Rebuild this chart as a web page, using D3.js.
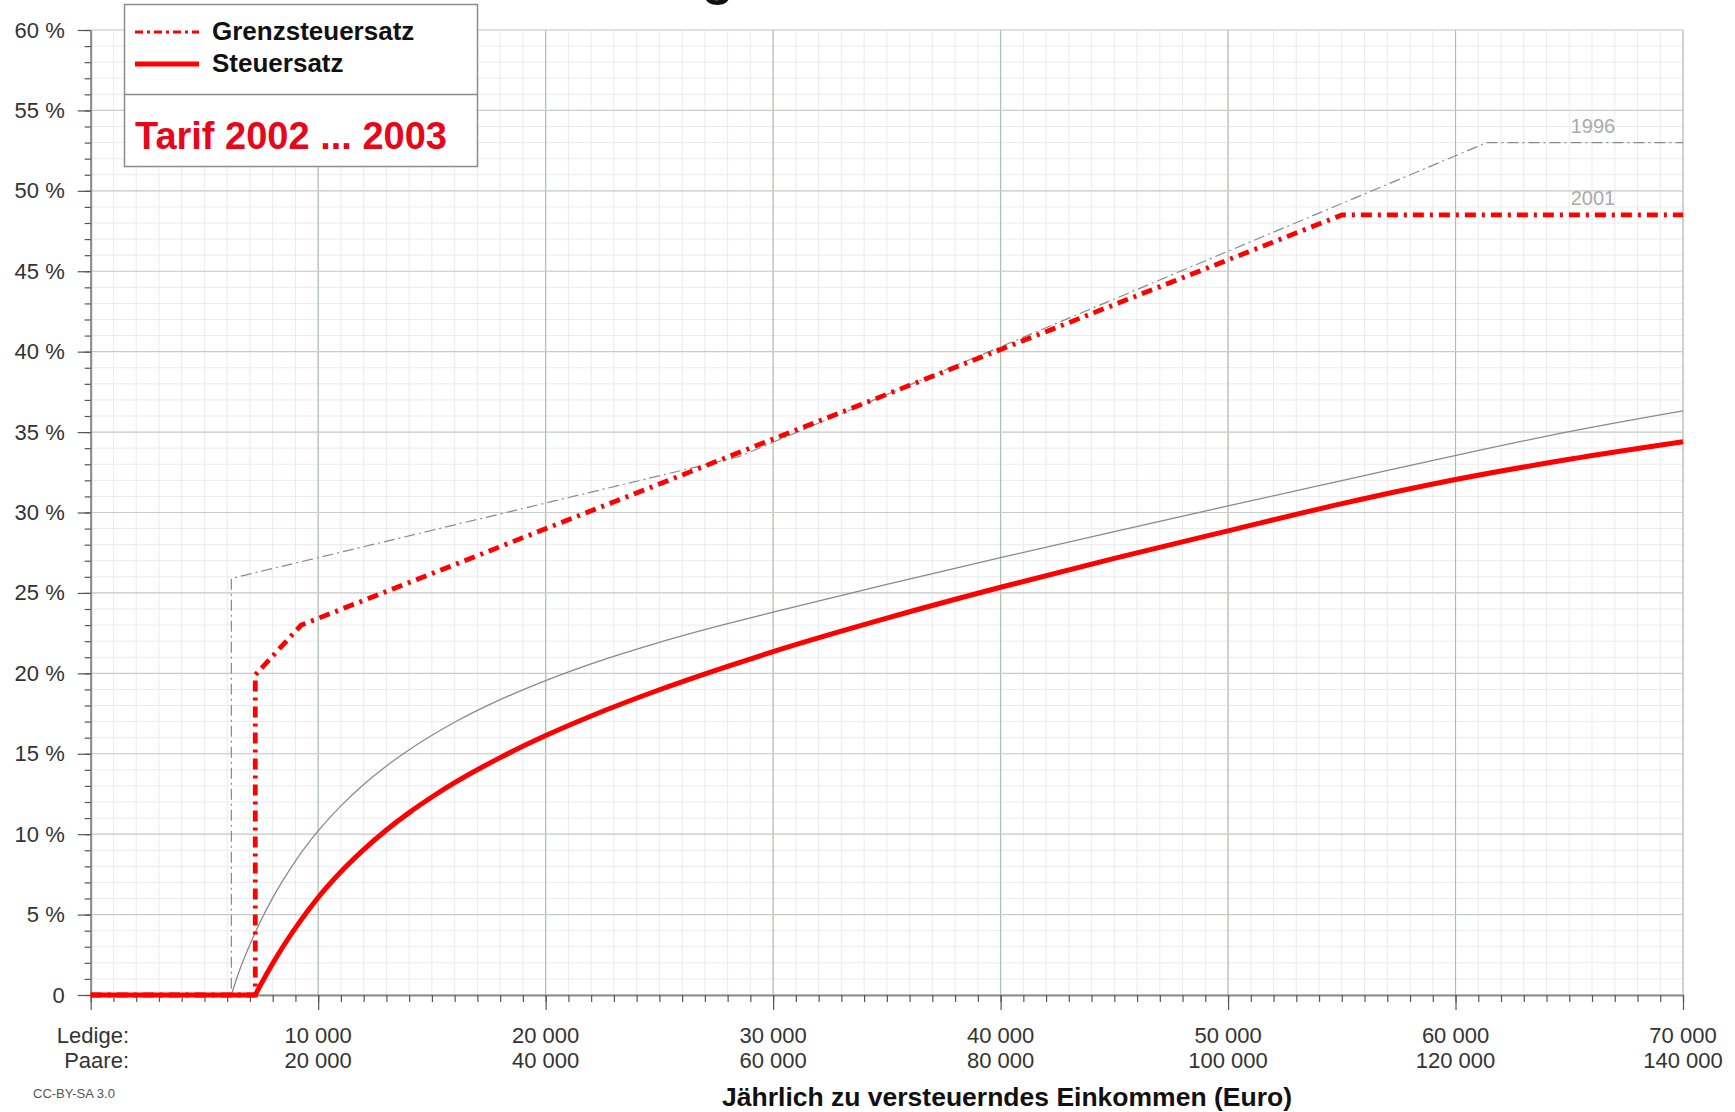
<!DOCTYPE html>
<html><head><meta charset="utf-8">
<script src="https://cdn.jsdelivr.net/npm/d3@7"></script>
<style>
html,body{margin:0;padding:0;background:#fff;}
svg{display:block;}
text{font-family:"Liberation Sans",Arial,sans-serif;}
</style></head>
<body>
<script>
// ---------------- DATA ----------------
// Tarif 2002/2003: Steuersatz (Durchschnittssteuersatz) in %, Ledige
const avgIncome2002 = [0, 7235, 7500, 8000, 8500, 9251, 10000, 11000, 12000, 13000, 14000, 15000, 16000, 18000, 20000, 22000, 25000, 28000, 30000, 35000, 40000, 45000, 50000, 55008, 60000, 65000, 70000];
const avgRate2002   = [0, 0, 0.71, 1.96, 3.11, 4.67, 6.06, 7.66, 9.04, 10.26, 11.34, 12.31, 13.20, 14.76, 16.13, 17.35, 18.98, 20.44, 21.35, 23.43, 25.35, 27.15, 28.86, 30.55, 32.05, 33.31, 34.40];
// Tarif 2002/2003: Grenzsteuersatz in %
const margIncome2002 = [0, 7235, 7235, 7735, 8235, 8735, 9251, 55008, 70000];
const margRate2002   = [0, 0, 19.9, 20.67, 21.44, 22.21, 23.0, 48.5, 48.5];
// Tarif 1996 (grau): Steuersatz in %
const avgIncome1996 = [0, 6184, 6500, 7000, 7500, 8000, 9000, 10000, 11000, 12000, 13000, 14000, 16000, 18000, 20000, 22000, 25000, 28000, 30000, 35000, 40000, 45000, 50000, 55000, 61377, 65000, 70000];
const avgRate1996   = [0, 0, 1.37, 3.14, 4.68, 6.04, 8.33, 10.20, 11.76, 13.09, 14.24, 15.25, 16.96, 18.36, 19.55, 20.59, 21.93, 23.09, 23.80, 25.53, 27.19, 28.81, 30.41, 31.98, 33.97, 35.03, 36.32];
// Tarif 1996 (grau): Grenzsteuersatz in %
const margIncome1996 = [0, 6184, 6184, 28493, 61377, 70000];
const margRate1996   = [0, 0, 25.9, 33.47, 53.0, 53.0];

// axis ticks & labels
const xMajorTicks = [0, 10000, 20000, 30000, 40000, 50000, 60000, 70000];
const xLabelsLedige = ["", "10 000", "20 000", "30 000", "40 000", "50 000", "60 000", "70 000"];
const xLabelsPaare  = ["", "20 000", "40 000", "60 000", "80 000", "100 000", "120 000", "140 000"];
const yMajorTicks = [0, 5, 10, 15, 20, 25, 30, 35, 40, 45, 50, 55, 60];
const yTickLabels = ["0", "5 %", "10 %", "15 %", "20 %", "25 %", "30 %", "35 %", "40 %", "45 %", "50 %", "55 %", "60 %"];
const legendLabels = ["Grenzsteuersatz", "Steuersatz"];
const tariffLabel = "Tarif 2002 ... 2003";
const yearLabels = [{year: "1996", rate: 53.0}, {year: "2001", rate: 48.5}];
const xAxisTitle = "Jährlich zu versteuerndes Einkommen (Euro)";
const titleText = "Tarifvergleich Einkommensteuer Deutschland";

// ---------------- LAYOUT ----------------
const W = 1735, H = 1112;
const L = 90.7, R = 1683, T = 30, B = 995;
const RED = "#ff0000", TEXTRED = "#e8071a", GRAY = "#8a8a8a";

const svg = d3.select("body").append("svg").attr("width", W).attr("height", H);
svg.append("rect").attr("width", W).attr("height", H).attr("fill", "#fff");

const x = d3.scaleLinear().domain([0, 70000]).range([L, R]);
const y = d3.scaleLinear().domain([0, 60]).range([B, T]);

// title, cut off at the top edge as in the reference (only a descender shows)
svg.append("text").attr("x", 515).attr("y", -6)
  .attr("font-size", 52).attr("font-weight", "bold").attr("fill", "#111")
  .text(titleText);

// grid
const grid = svg.append("g");
grid.selectAll(".mx").data(d3.range(0, 70001, 1000)).join("line")
  .attr("x1", d => x(d)).attr("x2", d => x(d)).attr("y1", T).attr("y2", B)
  .attr("stroke", "#ebebeb").attr("stroke-width", 1);
grid.selectAll(".my").data(d3.range(0, 61, 1)).join("line")
  .attr("y1", d => y(d)).attr("y2", d => y(d)).attr("x1", L).attr("x2", R)
  .attr("stroke", "#ebebeb").attr("stroke-width", 1);
grid.selectAll(".Mx").data(xMajorTicks).join("line")
  .attr("x1", d => x(d)).attr("x2", d => x(d)).attr("y1", T).attr("y2", B)
  .attr("stroke", "#adbfb2").attr("stroke-width", 1.2);
grid.selectAll(".My").data(yMajorTicks).join("line")
  .attr("y1", d => y(d)).attr("y2", d => y(d)).attr("x1", L).attr("x2", R)
  .attr("stroke", "#c9cdc9").attr("stroke-width", 1.2);

// axes
function styleAxis(g) {
  g.select(".domain").attr("stroke", "#8c8c8c").attr("stroke-width", 2);
  g.selectAll(".tick line").attr("stroke", "#555").attr("stroke-width", 1.2);
}
svg.append("g").attr("transform", `translate(0,${B})`)
  .call(d3.axisBottom(x).tickValues(d3.range(0, 70001, 1000)).tickSize(7).tickSizeOuter(0).tickFormat(""))
  .call(styleAxis);
const xAx = svg.append("g").attr("transform", `translate(0,${B})`)
  .call(d3.axisBottom(x).tickValues(xMajorTicks).tickSize(15).tickSizeOuter(0).tickFormat(""))
  .call(styleAxis);
xAx.select(".domain").remove();
svg.append("g").attr("transform", `translate(${L},0)`)
  .call(d3.axisLeft(y).tickValues(d3.range(0, 61, 1)).tickSize(6).tickSizeOuter(0).tickFormat(""))
  .call(styleAxis);
const yAx = svg.append("g").attr("transform", `translate(${L},0)`)
  .call(d3.axisLeft(y).tickValues(yMajorTicks).tickSize(13).tickSizeOuter(0).tickPadding(13)
    .tickFormat((d, i) => yTickLabels[i]))
  .call(styleAxis);
yAx.select(".domain").remove();
yAx.selectAll(".tick text").attr("font-size", 22).attr("fill", "#333")
  .attr("font-family", '"Liberation Sans",Arial,sans-serif');

// x labels (two lines)
const xl = svg.append("g").attr("font-size", 22).attr("fill", "#333").attr("text-anchor", "middle");
xMajorTicks.forEach((t, i) => {
  if (!xLabelsLedige[i]) return;
  xl.append("text").attr("x", x(t)).attr("y", 1043).text(xLabelsLedige[i]);
  xl.append("text").attr("x", x(t)).attr("y", 1068).text(xLabelsPaare[i]);
});
xl.append("text").attr("x", 129).attr("y", 1043).attr("text-anchor", "end").text("Ledige:");
xl.append("text").attr("x", 129).attr("y", 1068).attr("text-anchor", "end").text("Paare:");

svg.append("text").attr("x", 1007).attr("y", 1106).attr("text-anchor", "middle")
  .attr("font-size", 26.5).attr("font-weight", "bold").attr("fill", "#111").text(xAxisTitle);
svg.append("text").attr("x", 33).attr("y", 1098).attr("font-size", 13).attr("fill", "#555")
  .text("CC-BY-SA 3.0");

// lines
const line = d3.line().x(d => x(d[0])).y(d => y(d[1]));
const smooth = d3.line().x(d => x(d[0])).y(d => y(d[1])).curve(d3.curveMonotoneX);

function drawAvg(incomes, rates, attrs) {
  const pts = d3.zip(incomes, rates);
  const start = pts.findIndex(p => p[1] > 0) - 1;
  const flat = pts.slice(0, start + 1), rise = pts.slice(start);
  [line(flat), smooth(rise)].forEach(dStr => {
    const p = svg.append("path").attr("d", dStr).attr("fill", "none");
    Object.entries(attrs).forEach(([k, v]) => p.attr(k, v));
  });
}

// 1996 gray
svg.append("path").attr("d", line(d3.zip(margIncome1996, margRate1996)))
  .attr("fill", "none").attr("stroke", GRAY).attr("stroke-width", 1.2)
  .attr("stroke-dasharray", "11,4,2,4");
drawAvg(avgIncome1996, avgRate1996, {stroke: GRAY, "stroke-width": 1.3});

// 2002 red
svg.append("path").attr("d", line(d3.zip(margIncome2002, margRate2002)))
  .attr("fill", "none").attr("stroke", RED).attr("stroke-width", 4.8)
  .attr("stroke-dasharray", "11,6,3,6");
drawAvg(avgIncome2002, avgRate2002, {stroke: RED, "stroke-width": 5, "stroke-linejoin": "round"});

// year labels
svg.selectAll(".yl").data(yearLabels).join("text")
  .attr("x", 1593).attr("y", d => y(d.rate) - 10).attr("text-anchor", "middle")
  .attr("font-size", 20).attr("fill", "#aaa").text(d => d.year);

// legend
const lg = svg.append("g");
lg.append("rect").attr("x", 124.5).attr("y", 4.5).attr("width", 353).attr("height", 162)
  .attr("fill", "#fff").attr("stroke", "#8c8c8c").attr("stroke-width", 1.5);
lg.append("line").attr("x1", 124.5).attr("x2", 477.5).attr("y1", 94.5).attr("y2", 94.5)
  .attr("stroke", "#8c8c8c").attr("stroke-width", 1.5);
lg.append("line").attr("x1", 135).attr("x2", 199).attr("y1", 32).attr("y2", 32)
  .attr("stroke", RED).attr("stroke-width", 3.2).attr("stroke-dasharray", "8,4,3,4");
lg.append("line").attr("x1", 135).attr("x2", 199).attr("y1", 64).attr("y2", 64)
  .attr("stroke", RED).attr("stroke-width", 5);
lg.selectAll(".lt").data(legendLabels).join("text")
  .attr("x", 212).attr("y", (d, i) => 40 + i * 32)
  .attr("font-size", 26).attr("font-weight", "bold").attr("fill", "#111").text(d => d);
lg.append("text").attr("x", 135).attr("y", 149).attr("font-size", 38).attr("font-weight", "bold")
  .attr("fill", TEXTRED).text(tariffLabel);
</script>
</body></html>
